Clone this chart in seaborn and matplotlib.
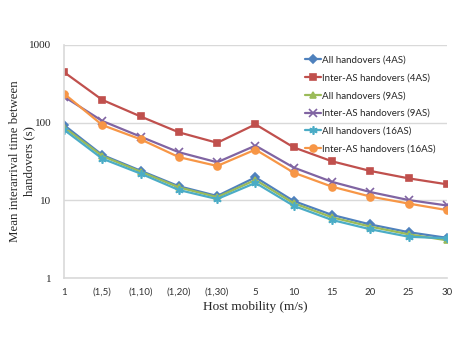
import pandas as pd
import numpy as np
import matplotlib
matplotlib.use('Agg')
import matplotlib.pyplot as plt
from matplotlib.ticker import FixedLocator, FixedFormatter, NullLocator
import seaborn as sns

# Данные
mobility = ['1', '(1,5)', '(1,10)', '(1,20)', '(1,30)', '5', '10', '15', '20', '25', '30']
all_4as = [93, 38.4, 24.1, 15.2, 11.4, 19.8, 9.8, 6.5, 4.9, 3.9, 3.3]
inter_4as = [446, 196, 120, 75, 55, 95, 48, 31.8, 23.9, 19.2, 16.1]
all_9as = [87, 37.2, 23.4, 14.7, 11.0, 18.3, 9.2, 6.05, 4.6, 3.66, 3.07]
inter_9as = [216, 105, 66, 41.6, 30.9, 50.6, 26.4, 17.3, 12.8, 10.1, 8.6]
all_16as = [81, 34.4, 22.1, 13.6, 10.4, 16.8, 8.5, 5.6, 4.25, 3.41, 3.25]
inter_16as = [236, 93, 61, 36, 27.7, 45, 22.7, 15.0, 11.2, 9.1, 7.5]

series = {
    'All handovers (4AS)': all_4as,
    'Inter-AS handovers (4AS)': inter_4as,
    'All handovers (9AS)': all_9as,
    'Inter-AS handovers (9AS)': inter_9as,
    'All handovers (16AS)': all_16as,
    'Inter-AS handovers (16AS)': inter_16as,
}
colors = ['#4F81BD', '#C0504D', '#9BBB59', '#8064A2', '#4BACC6', '#F79646']
markers = ['D', 's', '^', 'x', (6, 2, 0), 'o']
msizes = [4.5, 5, 5, 5.5, 6, 5]

if __name__ == '__main__':
    rows = []
    for name, vals in series.items():
        for i, v in enumerate(vals):
            rows.append({'pos': i, 'mobility': mobility[i], 'value': v, 'series': name})
    df = pd.DataFrame(rows)

    sns.set_style('white')
    fig = plt.figure(figsize=(4.57, 3.53), dpi=100)
    ax = fig.add_axes([0.140, 0.212, 0.838, 0.661])

    # Каждая серия отдельно: seaborn не смешивает закрашенные и линейные маркеры
    for (name, sub), c, m, ms in zip(df.groupby('series', sort=False), colors, markers, msizes):
        sns.lineplot(data=sub, x='pos', y='value', color=c, marker=m,
                     markersize=ms, markeredgecolor=c, markeredgewidth=1.2,
                     linewidth=1.6, label=name, ax=ax, sort=False)

    ax.set_yscale('log')
    ax.set_ylim(1, 1000)
    ax.set_xlim(0, len(mobility) - 1)
    ax.yaxis.set_major_locator(FixedLocator([1, 10, 100, 1000]))
    ax.yaxis.set_major_formatter(FixedFormatter(['1', '10', '100', '1000']))
    ax.yaxis.set_minor_locator(NullLocator())
    ax.set_xticks(range(len(mobility)))
    ax.set_xticklabels(mobility, family='Lato', fontsize=7, color='#333333')
    for t in ax.get_yticklabels():
        t.set_family('Liberation Serif')
        t.set_fontsize(8)
    ax.grid(axis='y', color='#D9D9D9', linewidth=1)
    ax.set_axisbelow(True)
    for s in ['top', 'right']:
        ax.spines[s].set_visible(False)
    for s in ['left', 'bottom']:
        ax.spines[s].set_color('#D9D9D9')
        ax.spines[s].set_linewidth(1.2)
    ax.tick_params(axis='x', which='major', length=3, color='#BFBFBF', width=1, pad=4)
    ax.tick_params(axis='y', which='major', length=3, color='#BFBFBF', width=1, pad=6)

    ax.set_xlabel('Host mobility (m/s)', family='Liberation Serif', fontsize=9.5, labelpad=3)
    ax.set_ylabel('Mean interarrival time between\nhandovers (s)', family='Liberation Serif',
                  fontsize=9.3, linespacing=1.2)
    ax.yaxis.set_label_coords(-0.076, 0.5)

    leg = ax.legend(loc='upper left', bbox_to_anchor=(0.62, 0.97), frameon=False,
                    prop={'family': 'Lato', 'size': 7}, handlelength=1.6,
                    handletextpad=0.1, labelspacing=0.9, borderaxespad=0)

    plt.savefig('out.png', dpi=100)
